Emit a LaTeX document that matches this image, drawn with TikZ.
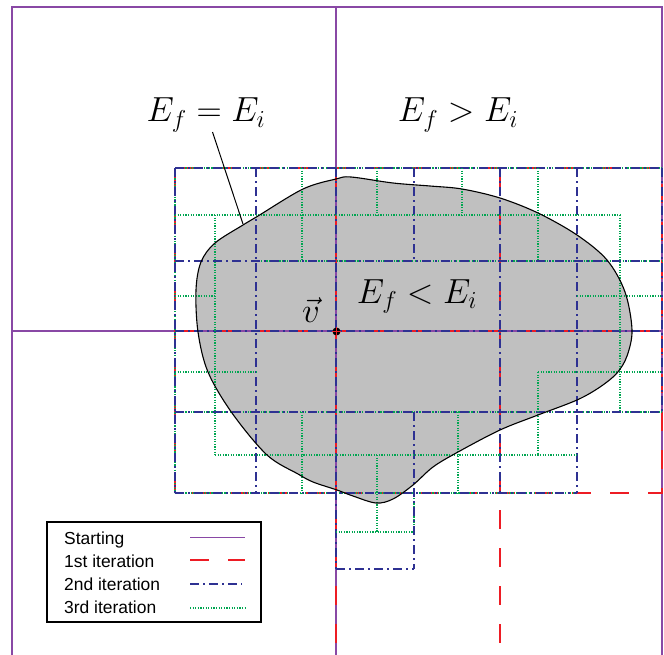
\RequirePackage{fix-cm}
\documentclass[tikz,border=0pt]{standalone}
\usepackage{fontspec}
\setsansfont{Liberation Sans}
\definecolor{cpurple}{RGB}{137,72,165}
\definecolor{cred}{RGB}{237,28,36}
\definecolor{cblue}{RGB}{46,49,146}
\definecolor{cgreen}{RGB}{0,166,81}
\definecolor{cgray}{RGB}{192,192,192}
\tikzset{
  startline/.style={cpurple, line width=1.5bp},
  firstit/.style={cred, line width=1.5bp, dash pattern=on 19bp off 19bp},
  secondit/.style={cblue, line width=1.5bp, dash pattern=on 9bp off 4bp on 1.5bp off 4.5bp},
  thirdit/.style={cgreen, line width=1.2bp, dash pattern=on 1.1bp off 1.5bp},
  blobfill/.style={fill=cgray},
  blobline/.style={black, line width=1.1bp},
  bigmath/.style={inner sep=0pt, anchor=base, font=\fontsize{35}{42}\selectfont},
  legtext/.style={inner sep=0pt, anchor=base west, font=\sffamily\fontsize{17.5}{21}\selectfont},
  legbox/.style={draw=black, line width=1.1bp},
  leader/.style={black, line width=1bp}
}
\begin{document}
\begin{tikzpicture}[x=1bp,y=-1bp]
\useasboundingbox (0,0) rectangle (664,655);
% blob fill
\def\blobpath{plot[smooth cycle, tension=0.55] coordinates {
 (351,177) (393,183) (430,186) (462,189) (500,198) (538,213) (577,235) (607,260)
 (625,292) (632,330) (627,356) (617,373) (600,387) (577,400) (538,415) (500,430)
 (458,452) (433,467) (413,485) (393,499) (376,503) (353,496) (337,490) (313,482)
 (298,474) (267,455) (232,413) (208,372) (198,332) (196,290) (201,262) (215,243)
 (243,225) (258,216) (303,189) (336,179)}}
\fill[blobfill] \blobpath;
% starting grid
\draw[startline] (12,655) -- (12,7) -- (662,7) -- (662,655);
\draw[startline] (336,7) -- (336,655);
\draw[startline] (12,331) -- (662,331);
% 1st iteration
\draw[firstit] (175,168) rectangle (662,493);
\draw[firstit] (175,331) -- (662,331);
\draw[firstit] (336,168) -- (336,655);
\draw[firstit] (500,168) -- (500,655);
% 3rd iteration, parts shared with 2nd iteration (beneath)
\draw[thirdit] (175,168) -- (662,168);
\draw[thirdit] (256,261) -- (662,261);
\draw[thirdit] (175,412) -- (662,412);
\draw[thirdit] (175,493) -- (577,493);
\draw[thirdit] (175,168) -- (175,493);
\draw[thirdit] (414,493) -- (414,532);
% 2nd iteration
\draw[secondit] (175,168) -- (662,168);
\draw[secondit] (175,261) -- (662,261);
\draw[secondit] (175,331) -- (662,331);
\draw[secondit] (175,412) -- (662,412);
\draw[secondit] (175,493) -- (577,493);
\draw[secondit] (336,569) -- (414,569);
\draw[secondit] (175,168) -- (175,493);
\draw[secondit] (256,168) -- (256,493);
\draw[secondit] (336,168) -- (336,569);
\draw[secondit] (414,168) -- (414,261);
\draw[secondit] (414,412) -- (414,569);
\draw[secondit] (500,168) -- (500,493);
\draw[secondit] (577,168) -- (577,493);
\draw[secondit] (662,168) -- (662,412);
% 3rd iteration
\draw[thirdit] (175,215) -- (620,215);
\draw[thirdit] (175,296) -- (215,296);
\draw[thirdit] (577,296) -- (662,296);
\draw[thirdit] (175,372) -- (256,372);
\draw[thirdit] (538,372) -- (662,372);
\draw[thirdit] (215,455) -- (577,455);
\draw[thirdit] (336,532) -- (414,532);
\draw[thirdit] (215,215) -- (215,455);
\draw[thirdit] (302,168) -- (302,261);
\draw[thirdit] (377,168) -- (377,215);
\draw[thirdit] (462,168) -- (462,215);
\draw[thirdit] (538,168) -- (538,261);
\draw[thirdit] (620,215) -- (620,412);
\draw[thirdit] (302,412) -- (302,493);
\draw[thirdit] (377,455) -- (377,532);
\draw[thirdit] (458,412) -- (458,493);
\draw[thirdit] (538,372) -- (538,455);
% blob outline
\draw[blobline] \blobpath;
% point v
\node[circle, fill=black, inner sep=0pt, minimum size=8bp] (vpt) at (336.5,331.5) {};
\draw[cred, line width=1.4bp] (vpt.north) -- (vpt.south);
\draw[cred, line width=1.4bp] (vpt.west) -- (vpt.east);
\node[bigmath] (vlab) at (311,322) {$\vec{v}$};
% labels
\node[bigmath] (eq) at (206,122) {$E_f = E_i$};
\node[bigmath] (gt) at (458,122) {$E_f > E_i$};
\node[bigmath] (lt) at (417,303) {$E_f < E_i$};
\coordinate (leadA) at (212.5,132);
\coordinate (leadB) at (243,224);
\draw[leader] (leadA) -- (leadB);
% legend
\draw[legbox] (47,522) rectangle (261,622);
\node[legtext] (l1) at (64,544) {Starting};
\node[legtext] (l2) at (64,567) {1st iteration};
\node[legtext] (l3) at (64,590) {2nd iteration};
\node[legtext] (l4) at (64,613) {3rd iteration};
\coordinate (s1a) at (190,537.5); \coordinate (s1b) at (245,537.5);
\coordinate (s2a) at (190,560); \coordinate (s2b) at (245,560);
\coordinate (s3a) at (190,584); \coordinate (s3b) at (242,584);
\coordinate (s4a) at (190,608); \coordinate (s4b) at (245,608);
\draw[startline] (s1a) -- (s1b);
\draw[firstit] (s2a) -- (s2b);
\draw[secondit] (s3a) -- (s3b);
\draw[thirdit] (s4a) -- (s4b);
\end{tikzpicture}
\end{document}
